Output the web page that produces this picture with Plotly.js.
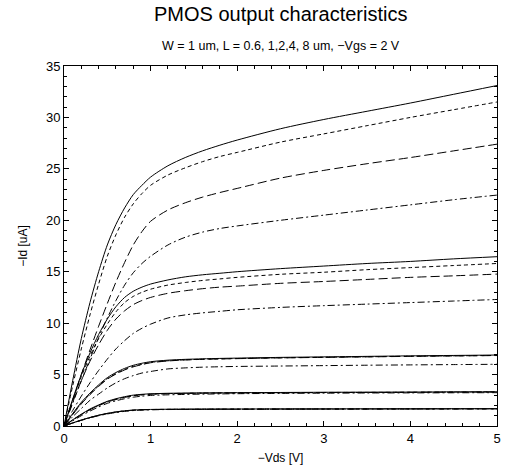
<!DOCTYPE html>
<html>
<head>
<meta charset="utf-8">
<script src="https://cdn.plot.ly/plotly-3.0.1.min.js"></script>
<style>html,body{margin:0;padding:0;background:#fff}#chart{width:505px;height:470px}</style>
</head>
<body>
<div id="chart"></div>
<script>
// -Vds [V]
const vds = [0,0.1,0.2,0.3,0.4,0.5,0.6,0.7,0.8,0.9,1.0,1.2,1.4,1.6,1.8,2.0,2.5,3.0,3.5,4.0,4.5,5.0];

// -Id [uA], group L = 0.6 um
const idL06_solid   = [0,4.4,8.5,12.0,15.0,17.6,19.6,21.2,22.5,23.4,24.2,25.3,26.1,26.75,27.3,27.8,28.9,29.8,30.6,31.4,32.25,33.1];
const idL06_dot     = [0,3.9,7.5,10.8,13.8,16.5,18.6,20.3,21.6,22.6,23.4,24.4,25.1,25.7,26.2,26.6,27.6,28.4,29.2,30.0,30.75,31.5];
const idL06_dash    = [0,2.5,5.0,7.4,9.7,11.9,14.0,15.9,17.6,18.9,19.9,21.0,21.7,22.25,22.7,23.1,24.1,24.85,25.5,26.1,26.75,27.4];
const idL06_dashdot = [0,2.2,4.4,6.5,8.6,10.5,12.2,13.7,14.9,15.8,16.5,17.6,18.35,18.85,19.2,19.45,20.0,20.5,21.0,21.5,22.0,22.45];

// group L = 1 um
const idL1_solid   = [0,2.6,5.0,7.1,8.9,10.4,11.6,12.5,13.1,13.5,13.8,14.2,14.5,14.7,14.85,15.0,15.3,15.55,15.8,16.0,16.25,16.46];
const idL1_dot     = [0,2.5,4.8,6.8,8.5,9.9,11.1,12.0,12.6,13.0,13.3,13.7,13.95,14.15,14.3,14.45,14.75,14.95,15.2,15.4,15.6,15.8];
const idL1_dash    = [0,2.3,4.4,6.3,7.9,9.3,10.4,11.2,11.8,12.2,12.5,12.9,13.15,13.35,13.5,13.6,13.87,14.05,14.25,14.45,14.6,14.77];
const idL1_dashdot = [0,1.5,2.9,4.2,5.4,6.5,7.5,8.3,9.0,9.5,9.9,10.5,10.8,11.0,11.15,11.3,11.53,11.7,11.85,12.0,12.15,12.3];

// group L = 2 um
const idL2_solid   = [0,1.2,2.3,3.2,4.0,4.7,5.2,5.6,5.9,6.1,6.25,6.4,6.48,6.53,6.57,6.6,6.67,6.72,6.77,6.82,6.86,6.9];
const idL2_dot     = [0,1.15,2.2,3.1,3.9,4.6,5.1,5.5,5.8,6.0,6.18,6.34,6.43,6.49,6.53,6.56,6.63,6.68,6.73,6.78,6.82,6.86];
const idL2_dash    = [0,1.1,2.15,3.05,3.85,4.55,5.05,5.45,5.75,5.97,6.15,6.32,6.42,6.48,6.52,6.55,6.62,6.67,6.72,6.77,6.81,6.85];
const idL2_dashdot = [0,0.9,1.7,2.5,3.1,3.7,4.2,4.6,4.9,5.15,5.3,5.55,5.65,5.72,5.76,5.79,5.83,5.87,5.91,5.94,5.97,6.0];

// group L = 4 um
const idL4_solid   = [0,0.6,1.15,1.65,2.05,2.4,2.65,2.85,3.0,3.08,3.13,3.18,3.2,3.22,3.23,3.24,3.26,3.28,3.29,3.3,3.32,3.33];
const idL4_dot     = [0,0.58,1.12,1.6,2.0,2.35,2.6,2.8,2.95,3.04,3.1,3.15,3.18,3.2,3.21,3.22,3.24,3.26,3.27,3.28,3.3,3.31];
const idL4_dash    = [0,0.57,1.1,1.58,1.98,2.33,2.58,2.78,2.94,3.03,3.09,3.14,3.17,3.19,3.2,3.21,3.23,3.25,3.26,3.27,3.29,3.3];
const idL4_dashdot = [0,0.5,1.0,1.45,1.85,2.2,2.45,2.65,2.8,2.9,2.97,3.03,3.07,3.1,3.12,3.14,3.17,3.19,3.21,3.22,3.23,3.24];

// group L = 8 um
const idL8_solid   = [0,0.3,0.58,0.83,1.05,1.23,1.37,1.48,1.55,1.59,1.61,1.63,1.64,1.645,1.65,1.65,1.66,1.665,1.67,1.675,1.68,1.685];
const idL8_dot     = [0,0.29,0.57,0.82,1.04,1.22,1.36,1.47,1.54,1.58,1.6,1.62,1.63,1.635,1.64,1.64,1.65,1.655,1.66,1.665,1.67,1.675];
const idL8_dash    = [0,0.29,0.56,0.81,1.03,1.21,1.35,1.46,1.53,1.57,1.59,1.61,1.62,1.625,1.63,1.63,1.64,1.645,1.65,1.655,1.66,1.665];
const idL8_dashdot = [0,0.28,0.55,0.79,1.0,1.17,1.31,1.42,1.5,1.55,1.58,1.6,1.61,1.62,1.625,1.63,1.64,1.645,1.65,1.655,1.66,1.665];

const groups = [
  [idL06_solid, idL06_dot, idL06_dash, idL06_dashdot],
  [idL1_solid, idL1_dot, idL1_dash, idL1_dashdot],
  [idL2_solid, idL2_dot, idL2_dash, idL2_dashdot],
  [idL4_solid, idL4_dot, idL4_dash, idL4_dashdot],
  [idL8_solid, idL8_dot, idL8_dash, idL8_dashdot]
];
const dashes = ['solid', '4px,3px', '9px,4px', '7px,3px,2px,3px'];

const traces = [];
groups.forEach(g => {
  g.forEach((ys, k) => {
    traces.push({
      x: vds, y: ys, type: 'scatter', mode: 'lines',
      line: {color: '#000', width: 1, dash: dashes[k], shape: 'spline', smoothing: 0.8},
      showlegend: false, hoverinfo: 'none'
    });
  });
});

const fontFam = 'Liberation Sans, Arial, sans-serif';
const axisCommon = {
  showline: true, linecolor: '#000', linewidth: 1, mirror: 'allticks',
  ticks: 'inside', ticklen: 5, tickwidth: 1, tickcolor: '#000',
  showgrid: false, zeroline: false,
  tickfont: {family: fontFam, size: 13, color: '#000'},
  minor: {ticks: 'inside', ticklen: 3, tickwidth: 1, tickcolor: '#000', showgrid: false}
};

const layout = {
  width: 505, height: 470,
  margin: {l: 64, r: 8, t: 66, b: 44},
  paper_bgcolor: '#fff', plot_bgcolor: '#fff',
  font: {family: fontFam, color: '#000'},
  xaxis: Object.assign({}, axisCommon, {
    range: [0, 5], dtick: 1, tick0: 0,
    minor: Object.assign({}, axisCommon.minor, {dtick: 0.2}),
    title: {text: '\u2212Vds [V]', font: {family: fontFam, size: 12, color: '#000'}, standoff: 9}
  }),
  yaxis: Object.assign({}, axisCommon, {
    range: [0, 35], dtick: 5, tick0: 0,
    minor: Object.assign({}, axisCommon.minor, {dtick: 1}),
    title: {text: '\u2212Id [uA]', font: {family: fontFam, size: 12, color: '#000'}, standoff: 15}
  }),
  annotations: [
    {text: 'PMOS output characteristics', xref: 'paper', yref: 'paper', x: 0.5, y: 1,
     yshift: 52, xanchor: 'center', yanchor: 'middle', showarrow: false,
     font: {family: fontFam, size: 20, color: '#000'}},
    {text: 'W = 1 um, L = 0.6, 1,2,4, 8 um, \u2212Vgs = 2 V', xref: 'paper', yref: 'paper', x: 0.5, y: 1,
     yshift: 20, xanchor: 'center', yanchor: 'middle', showarrow: false,
     font: {family: fontFam, size: 12.5, color: '#000'}}
  ]
};

Plotly.newPlot('chart', traces, layout, {staticPlot: true, displayModeBar: false});
</script>
</body>
</html>
